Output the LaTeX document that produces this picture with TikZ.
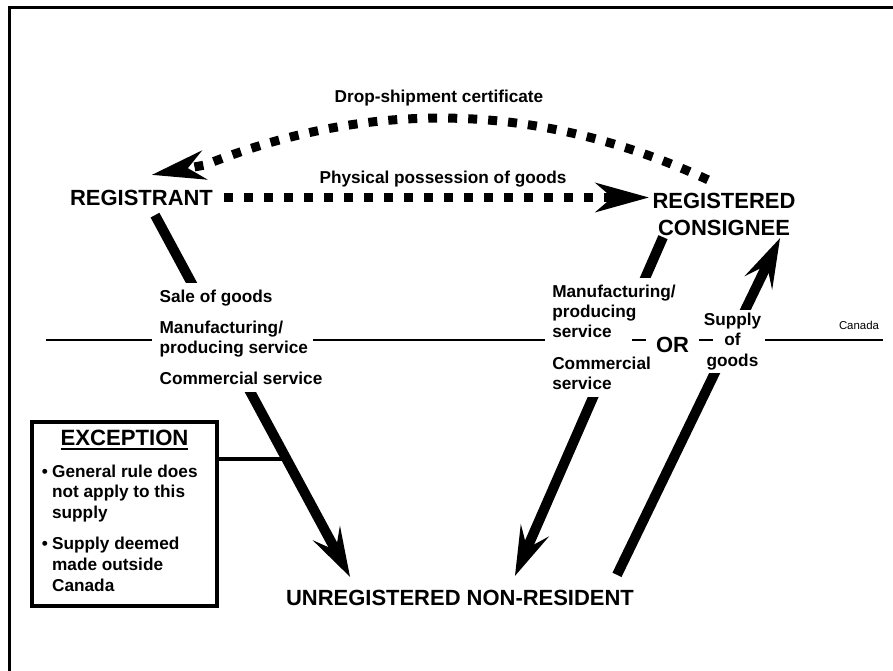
\documentclass[tikz,border=0pt]{standalone}
\usepackage{fontspec}
\setmainfont{Liberation Sans}
\usetikzlibrary{arrows.meta}

\newcommand{\ulbold}[1]{\setbox0\hbox{#1}\rlap{\vrule height -1pt depth 2.5pt width \wd0}\box0}

\begin{document}
\begin{tikzpicture}[
    party/.style={font=\fontsize{12.5}{15.4}\selectfont\bfseries, inner sep=2pt, align=center},
    flowlbl/.style={font=\fontsize{9.8}{11.5}\selectfont\bfseries, inner sep=2pt},
    possline/.style={line width=0.18cm, dash pattern=on 0.18cm off 0.22cm, -{Stealth[length=1.08cm, width=0.6cm, inset=0.35cm, line width=0pt]}},
    supplyline/.style={line width=0.2cm, -{Stealth[length=1cm, width=0.62cm, inset=0.4cm, line width=0pt]}},
    canline/.style={line width=0.7pt}]
    \useasboundingbox (0, 0) rectangle (17.86, 13.42);
    \draw[line width=1.4pt] (0.19, 0) -- (0.19, 13.27) -- (17.86, 13.27);
    \node[party] (reg) at (2.83, 9.47) {REGISTRANT};
    \node[party] (rcon) at (14.48, 9.14) {REGISTERED\\CONSIGNEE};
    \node[party] (unr) at (9.2, 1.47) {UNREGISTERED NON-RESIDENT};
    \node[flowlbl] (droplbl) at (8.78, 11.45) {Drop-shipment certificate};
    \node[flowlbl] (posslbl) at (8.86, 9.83) {Physical possession of goods};
    \draw[possline, shorten <=0.15cm] (reg.east) -- (reg.east -| rcon.west);
    \draw[possline] ([shift={(-0.32,0.18)}]rcon.north) .. controls (10.81, 11.37) and (7.46, 11.46) .. (4.1, 10.12) -- ([shift={(0.21,0.22)}]reg.north);
    \draw[supplyline] ([shift={(0.27,-0.12)}]reg.south) -- coordinate[pos=0.674] (hit) ([shift={(-2.2,0.18)}]unr.north);
    \draw[supplyline] ([shift={(-1.22,0.04)}]rcon.south) -- ([shift={(1.1,0.2)}]unr.north);
    \draw[supplyline] ([shift={(3.14,0.22)}]unr.north) -- ([shift={(1.12,0.02)}]rcon.south);
    \node[flowlbl, fill=white, align=left, inner sep=4pt] (lblL) at (4.82, 6.67) {Sale of goods\\[6.2pt]Manufacturing/\\producing service\\[6.2pt]Commercial service};
    \node[flowlbl, fill=white, align=left, inner sep=4pt] (lblR) at (12.28, 6.67) {Manufacturing/\\producing\\service\\[6.5pt]Commercial\\service};
    \node[party, fill=white, inner xsep=5.5pt] (orlbl) at (13.45, 6.53) {OR};
    \node[flowlbl, fill=white, align=center] (suplbl) at (14.65, 6.59) {Supply\\of\\goods};
    \node[font=\fontsize{6.5}{8}\selectfont] (canlbl) at (17.18, 6.92) {Canada};
    \coordinate (canL) at (0.92, 6.62);
    \coordinate (canR) at (17.66, 6.62);
    \draw[canline] (canL) -- (lblL.west |- canL);
    \draw[canline] ([xshift=-0.34cm]lblL.east |- canL) -- (lblR.west |- canL);
    \draw[canline] (12.64, 6.62) -- (orlbl.west |- canL);
    \draw[canline] (orlbl.east |- canL) -- (14.26, 6.62);
    \draw[canline] (suplbl.east |- canL) -- (canR);
    \node[draw, line width=0.08cm, minimum width=3.7cm, minimum height=3.68cm, inner sep=0pt, font=\fontsize{9.8}{11.8}\selectfont\bfseries] (exc) at (2.49, 3.14) {%
        \begin{tabular}{@{}l@{\hspace{2.4pt}}p{3.1cm}@{}}
            \multicolumn{2}{c}{\fontsize{12.6}{14}\selectfont\ulbold{EXCEPTION}}\\[6pt]
            \textbullet & General rule does\\
            & not apply to this\\
            & supply\\[6pt]
            \textbullet & Supply deemed\\
            & made outside\\
            & Canada
        \end{tabular}};
    \draw[line width=0.065cm] (exc.east |- hit) -- (hit);
\end{tikzpicture}
\end{document}
